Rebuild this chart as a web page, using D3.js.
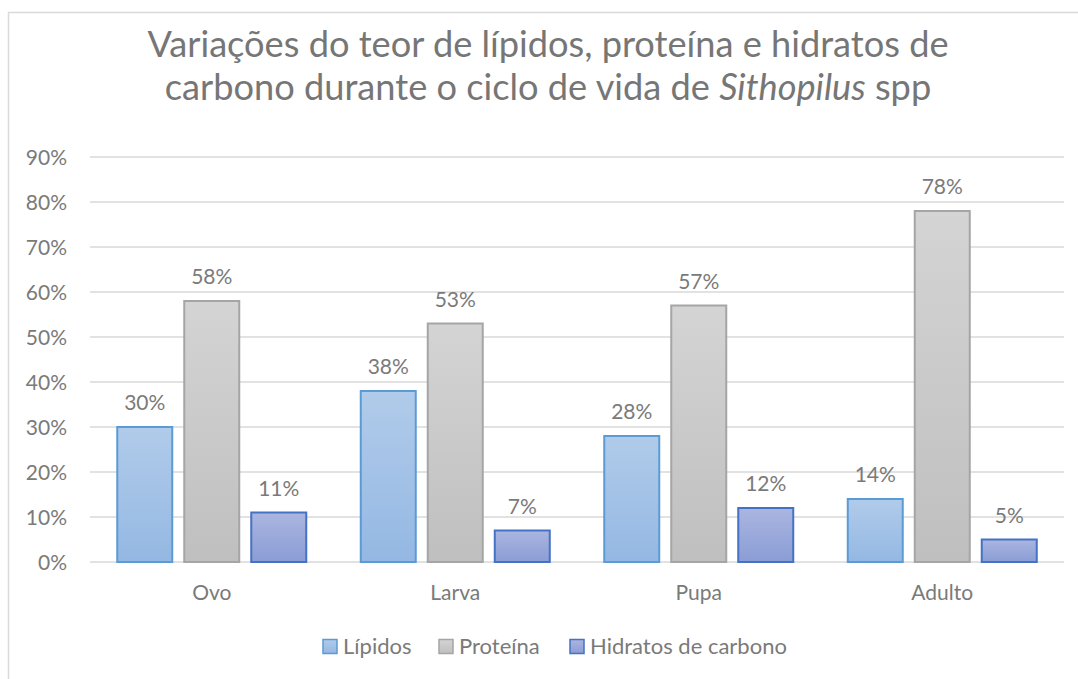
<!DOCTYPE html>
<html><head><meta charset="utf-8">
<script src="https://cdn.jsdelivr.net/npm/d3@7"></script>
<style>
html,body{margin:0;padding:0;background:#fff;}
svg{display:block;}
text{font-family:Lato,"Open Sans",sans-serif;}
</style></head>
<body>
<svg id="c" width="1078" height="679"></svg>
<script>
const categories = ["Ovo","Larva","Pupa","Adulto"];
const seriesNames = ["Lípidos","Proteína","Hidratos de carbono"];
const lipidos = [0.30,0.38,0.28,0.14];
const proteina = [0.58,0.53,0.57,0.78];
const hidratos = [0.11,0.07,0.12,0.05];
const yTicks = [0,0.1,0.2,0.3,0.4,0.5,0.6,0.7,0.8,0.9];

const seriesValues = [lipidos, proteina, hidratos];
const styles = [
  {top:"#b1cbea", bot:"#94b8e3", stroke:"#5b9bd5"},
  {top:"#d4d4d4", bot:"#bfbfbf", stroke:"#a5a5a5"},
  {top:"#abb5e0", bot:"#8a9dd5", stroke:"#4472c4"}
];
const txtCol = "#7a7a7a";
const fs = 21;

const svg = d3.select("#c");
const defs = svg.append("defs");
styles.forEach((s,i)=>{
  const g = defs.append("linearGradient").attr("id","g"+i).attr("x1",0).attr("y1",0).attr("x2",0).attr("y2",1);
  g.append("stop").attr("offset","0%").attr("stop-color",s.top);
  g.append("stop").attr("offset","100%").attr("stop-color",s.bot);
});

// outer border
svg.append("rect").attr("x",8.5).attr("y",12.5).attr("width",1100).attr("height",700)
  .attr("fill","none").attr("stroke","#d9d9d9").attr("stroke-width",1.5);

const x0 = d3.scaleBand().domain(categories).range([90,1064]).paddingInner(0).paddingOuter(0);
const y = d3.scaleLinear().domain([0,0.9]).range([562,157]);

// gridlines
svg.append("g").selectAll("line").data(yTicks).join("line")
  .attr("x1",90).attr("x2",1064)
  .attr("y1",d=>y(d)).attr("y2",d=>y(d))
  .attr("stroke","#d9d9d9").attr("stroke-width",1.3);

// y axis labels
const yAxis = d3.axisLeft(y).tickValues(yTicks).tickFormat(d3.format(".0%")).tickSize(0).tickPadding(0);
const ya = svg.append("g").attr("transform","translate(67,0)").call(yAxis);
ya.select(".domain").remove();
ya.selectAll("text").attr("font-size",fs).attr("fill",txtCol).attr("font-family","Lato,sans-serif").attr("dy","0.35em");

// x axis labels
const xAxis = d3.axisBottom(x0).tickSize(0).tickPadding(0);
const xa = svg.append("g").attr("transform","translate(0,600)").call(xAxis);
xa.select(".domain").remove();
xa.selectAll("text").attr("font-size",fs).attr("fill",txtCol).attr("font-family","Lato,sans-serif").attr("dy",0);

const barW = 55, gap = 12;
const x1 = d3.scaleBand().domain(d3.range(3)).range([0, 3*barW+2*gap]).paddingInner(gap/(barW+gap)).paddingOuter(0);
const outer = (x0.bandwidth() - (3*barW+2*gap))/2;

categories.forEach((c,ci)=>{
  seriesValues.forEach((vals,si)=>{
    const bx = x0(c)+outer+x1(si);
    const v = vals[ci];
    svg.append("rect").attr("x",bx).attr("y",y(v)).attr("width",x1.bandwidth()).attr("height",y(0)-y(v))
      .attr("fill","url(#g"+si+")").attr("stroke",styles[si].stroke).attr("stroke-width",2);
    svg.append("text").attr("x",bx+x1.bandwidth()/2).attr("y",y(v)-17)
      .attr("text-anchor","middle").attr("font-size",fs).attr("fill",txtCol)
      .text(d3.format(".0%")(v));
  });
});

// title
const title = svg.append("text").attr("text-anchor","middle").attr("font-size",36.2).attr("fill","#767676");
title.append("tspan").attr("x",548).attr("y",57).text("Variações do teor de lípidos, proteína e hidratos de");
const t2 = title.append("tspan").attr("x",548).attr("y",100);
t2.append("tspan").text("carbono durante o ciclo de vida de ");
t2.append("tspan").attr("font-style","italic").text("Sithopilus");
t2.append("tspan").text(" spp");

// legend
const legX = [323, 439, 570];
const lg = svg.append("g");
seriesNames.forEach((n,i)=>{
  lg.append("rect").attr("x",legX[i]).attr("y",639.5).attr("width",14).attr("height",14)
    .attr("fill","url(#g"+i+")").attr("stroke",styles[i].stroke).attr("stroke-width",1.5);
  lg.append("text").attr("x",legX[i]+20).attr("y",654).attr("font-size",22).attr("fill",txtCol).text(n);
});
</script>
</body></html>
